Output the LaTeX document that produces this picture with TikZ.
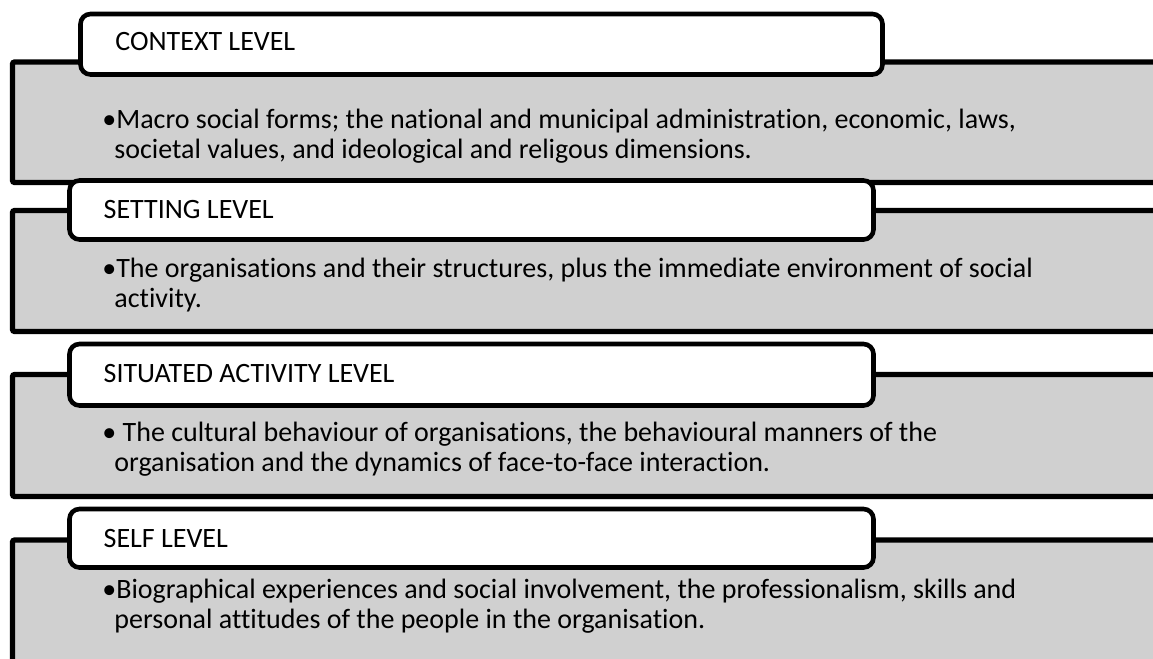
\documentclass[tikz,border=0pt]{standalone}
\usepackage{fontspec}
\setmainfont{Carlito}[Ligatures={NoCommon}]
\definecolor{panelgrey}{RGB}{208,208,208}

\tikzset{
  panel/.style={draw=black, fill=panelgrey, line width=2.6pt, rounded corners=1pt},
  tabbox/.style={draw=black, fill=white, line width=2.3pt, rounded corners=5pt},
  tablabel/.style={anchor=base west, inner sep=0pt, font=\fontsize{14}{15}\selectfont},
  bodytext/.style={anchor=base west, inner sep=0pt, align=left, font=\fontsize{14}{15}\selectfont}
}

\begin{document}
\begin{tikzpicture}[x=0.5pt, y=-0.5pt]

    % Page frame (1 unit = 1 pixel of the reference)
    \useasboundingbox (0,0) rectangle (1153,659);
    \clip (0,0) rectangle (1153,659);

    % Context level
    % (body nodes sit on the baseline of their last line)
    \draw[panel] (12.5,62) rectangle (1175,182.5);
    \draw[tabbox] (80.5,14) rectangle (882.5,74.5);
    \node[tablabel] (ctxlabel) at (115,50.7) {CONTEXT LEVEL};
    \node[bodytext] (ctxtext) at (102,158.3) {\textbullet Macro social forms; the national and municipal administration, economic, laws,\\
      \hspace*{6pt}societal values, and ideological and religous dimensions.};

    % Setting level
    \draw[panel] (12.5,210.5) rectangle (1175,331.5);
    \draw[tabbox] (69.5,180.5) rectangle (873.5,239.5);
    \node[tablabel] (setlabel) at (103.3,218.3) {SETTING LEVEL};
    \node[bodytext] (settext) at (102,307.7) {\textbullet The organisations and their structures, plus the immediate environment of social\\
      \hspace*{6pt}activity.};

    % Situated activity level
    \draw[panel] (12.5,374.5) rectangle (1175,496.5);
    \draw[tabbox] (69.5,344) rectangle (873.5,405.5);
    \node[tablabel] (sitlabel) at (103.3,382.7) {SITUATED ACTIVITY LEVEL};
    \node[bodytext] (sittext) at (102,471.7) {\textbullet{} The cultural behaviour of organisations, the behavioural manners of the\\
      \hspace*{6pt}organisation and the dynamics of face-to-face interaction.};

    % Self level
    \draw[panel] (12.5,540) rectangle (1175,700);
    \draw[tabbox] (69.5,509) rectangle (873.5,567.5);
    \node[tablabel] (selflabel) at (103.3,547.3) {SELF LEVEL};
    \node[bodytext] (selftext) at (102,628) {\textbullet Biographical experiences and social involvement, the professionalism, skills and\\
      \hspace*{6pt}personal attitudes of the people in the organisation.};

\end{tikzpicture}
\end{document}
